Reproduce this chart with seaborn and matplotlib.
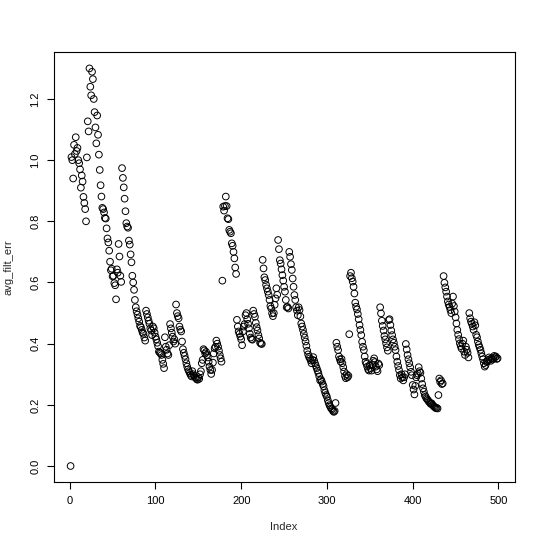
import numpy as np
import pandas as pd
import matplotlib
matplotlib.use("Agg")
import matplotlib.pyplot as plt
import seaborn as sns

# ---- data (in index order) ----
seg_start = [0.0]
seg_a = [1.01, 1.00, 0.94, 1.05, 1.02, 1.075, 1.03, 1.04, 1.00, 0.99, 0.97, 0.91, 0.95, 0.93, 0.88, 0.86, 0.84, 0.80]
seg_b = [1.009, 1.127, 1.094, 1.30, 1.24, 1.212, 1.289, 1.265, 1.20, 1.157, 1.107, 1.055, 1.146, 1.083, 1.018,
         0.968, 0.918, 0.881, 0.844, 0.84, 0.829, 0.811, 0.809, 0.777, 0.744, 0.731, 0.704, 0.668, 0.64, 0.645,
         0.62, 0.622, 0.598, 0.591, 0.545, 0.643, 0.632, 0.726, 0.685, 0.622, 0.602]
seg_c = [0.974, 0.942, 0.911, 0.874, 0.833, 0.794, 0.783, 0.779, 0.737, 0.724, 0.692, 0.666, 0.622, 0.60, 0.576, 0.543]
seg_d = [0.519, 0.506, 0.495, 0.483, 0.472, 0.458, 0.454, 0.445, 0.436, 0.432, 0.42, 0.41]
seg_e = [0.508, 0.497, 0.486, 0.475, 0.465, 0.45, 0.443, 0.428, 0.456, 0.45, 0.436, 0.423, 0.414, 0.403, 0.392,
         0.374, 0.371, 0.368, 0.363, 0.347, 0.334, 0.32]
seg_f = [0.421, 0.39, 0.38, 0.368, 0.363, 0.395, 0.464, 0.45, 0.436, 0.423, 0.407, 0.414, 0.40]
seg_g = [0.528, 0.50, 0.49, 0.483, 0.456, 0.446, 0.44, 0.407, 0.382, 0.37, 0.36, 0.349, 0.336, 0.325, 0.316,
         0.31, 0.304, 0.298, 0.293, 0.31, 0.30, 0.295, 0.29, 0.288, 0.284, 0.282, 0.29, 0.285, 0.30, 0.31]
seg_h = [0.336, 0.347, 0.382, 0.378, 0.368, 0.373, 0.363, 0.355, 0.341, 0.325, 0.314, 0.301, 0.314, 0.338,
         0.368, 0.385, 0.39, 0.41, 0.40, 0.39, 0.377, 0.363, 0.352, 0.341]
seg_i = [0.606, 0.848, 0.835, 0.85, 0.881, 0.85, 0.81, 0.807, 0.772, 0.766, 0.761, 0.728, 0.72, 0.70, 0.679,
         0.649, 0.628]
seg_j = [0.478, 0.456, 0.44, 0.432, 0.423, 0.414, 0.395, 0.44, 0.456, 0.464, 0.493, 0.50, 0.48, 0.465, 0.45,
         0.432, 0.42, 0.415, 0.413]
seg_k = [0.508, 0.497, 0.488, 0.468, 0.454, 0.443, 0.428, 0.417, 0.403, 0.40, 0.399]
seg_l = [0.674, 0.646, 0.617, 0.608, 0.592, 0.581, 0.57, 0.559, 0.543, 0.523, 0.515, 0.499, 0.49, 0.50, 0.527,
         0.548, 0.581, 0.56]
seg_m = [0.739, 0.709, 0.673, 0.662, 0.643, 0.624, 0.606, 0.586, 0.57, 0.543, 0.519, 0.52, 0.515]
seg_n = [0.70, 0.684, 0.66, 0.641, 0.613, 0.586, 0.559, 0.543, 0.519, 0.508, 0.493, 0.519, 0.51, 0.489, 0.466,
         0.456, 0.445, 0.432, 0.42, 0.407, 0.393, 0.377, 0.365, 0.357, 0.352, 0.345, 0.336, 0.347, 0.356, 0.345,
         0.336, 0.328, 0.32, 0.312, 0.304, 0.293, 0.28, 0.283, 0.276, 0.268, 0.261, 0.248, 0.239, 0.232, 0.226,
         0.215, 0.206, 0.199, 0.193, 0.188, 0.185, 0.18, 0.177, 0.18, 0.206]
seg_o = [0.403, 0.39, 0.379, 0.358, 0.349, 0.341, 0.35, 0.336, 0.323, 0.309, 0.294, 0.287, 0.30, 0.29, 0.295, 0.431]
seg_p = [0.621, 0.632, 0.614, 0.603, 0.586, 0.564, 0.534, 0.521, 0.512, 0.497, 0.48, 0.461, 0.445, 0.428, 0.406,
         0.39, 0.379, 0.358, 0.341, 0.334, 0.325, 0.316, 0.312, 0.33, 0.32]
seg_q = [0.312, 0.33, 0.344, 0.352, 0.34, 0.325, 0.316, 0.31, 0.335, 0.33]
seg_r = [0.519, 0.499, 0.475, 0.458, 0.443, 0.425, 0.414, 0.401, 0.388, 0.377]
seg_s = [0.477, 0.48, 0.461, 0.443, 0.428, 0.414, 0.403, 0.39, 0.379, 0.358, 0.341, 0.327, 0.314, 0.297, 0.286,
         0.30, 0.29, 0.28, 0.29, 0.30]
seg_t = [0.399, 0.381, 0.363, 0.349, 0.336, 0.323, 0.308, 0.297, 0.265, 0.25, 0.234,
         0.262, 0.29, 0.297, 0.302, 0.323, 0.31]
seg_u = [0.305, 0.286, 0.268, 0.254, 0.243, 0.232, 0.227, 0.221, 0.218, 0.214, 0.21, 0.207, 0.203, 0.205, 0.20,
         0.197, 0.194, 0.192, 0.189, 0.19, 0.188, 0.232, 0.286, 0.275, 0.28, 0.268, 0.27]
seg_v = [0.621, 0.599, 0.584, 0.57, 0.554, 0.538, 0.528, 0.52, 0.51, 0.50, 0.531, 0.554, 0.523, 0.505, 0.486,
         0.466, 0.445, 0.429, 0.415, 0.401, 0.392, 0.384, 0.40, 0.41, 0.374, 0.363, 0.39, 0.38, 0.37, 0.355]
seg_w = [0.50, 0.483, 0.472, 0.465, 0.456, 0.445, 0.47, 0.46, 0.429, 0.421, 0.407, 0.396, 0.388, 0.38, 0.369,
         0.358, 0.349, 0.336, 0.325, 0.33, 0.34]
seg_x = [0.342, 0.347, 0.355, 0.349, 0.344, 0.352, 0.348, 0.353, 0.36, 0.355, 0.358, 0.35, 0.352]

x_ticks = [0, 100, 200, 300, 400, 500]
y_ticks = [0.0, 0.2, 0.4, 0.6, 0.8, 1.0, 1.2]
x_label = "Index"
y_label = "avg_filt_err"

values = (seg_start + seg_a + seg_b + seg_c + seg_d + seg_e + seg_f + seg_g + seg_h + seg_i + seg_j + seg_k
          + seg_l + seg_m + seg_n + seg_o + seg_p + seg_q + seg_r + seg_s + seg_t + seg_u + seg_v + seg_w + seg_x)
df = pd.DataFrame({"Index": np.arange(1, len(values) + 1), "avg_filt_err": values})

# ---- style ----
sns.set_style("ticks")
plt.rcParams["font.family"] = ["Liberation Sans", "DejaVu Sans"]

fig = plt.figure(figsize=(5.40, 5.48), dpi=100)
ax = fig.add_axes([0.0991, 0.1206, 0.9531 - 0.0991, 0.9042 - 0.1206])

sns.scatterplot(data=df, x="Index", y="avg_filt_err", ax=ax, marker="o", s=23,
                facecolor="none", edgecolor="black", linewidth=0.7, legend=False)

n = len(values)
ax.set_xlim(1 - 0.04 * (n - 1), n + 0.04 * (n - 1))
ax.set_ylim(-0.052, 1.352)
ax.set_xticks(x_ticks)
ax.set_xticklabels([str(t) for t in x_ticks])
ax.set_yticks(y_ticks)
ax.set_yticklabels([f"{t:.1f}" for t in y_ticks], rotation=90, va="center")

for sp in ax.spines.values():
    sp.set_visible(True)
    sp.set_color("black")
    sp.set_linewidth(0.8)
ax.tick_params(axis="both", direction="out", length=5, width=0.8, color="black",
               labelsize=8, labelcolor="black")
ax.tick_params(axis="x", pad=5.5)
ax.tick_params(axis="y", pad=4.5)

ax.set_xlabel(x_label, fontsize=8, labelpad=11)
ax.set_ylabel(y_label, fontsize=8, labelpad=12)

fig.savefig("out.png", dpi=100, facecolor="white")
